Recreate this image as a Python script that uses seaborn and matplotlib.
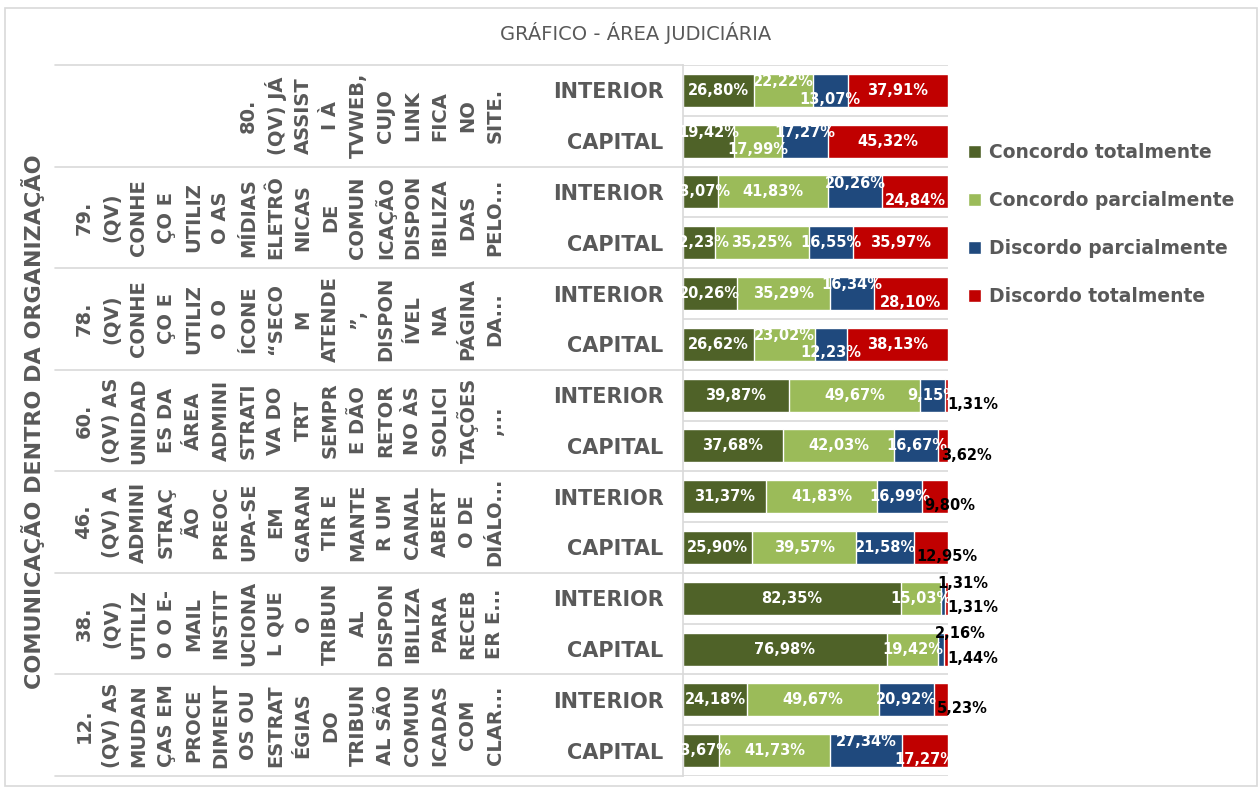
import numpy as np
import pandas as pd
import matplotlib.pyplot as plt
import matplotlib.transforms as mtransforms
from matplotlib.lines import Line2D
from matplotlib.patches import Patch, Rectangle
import seaborn as sns

# dados do gráfico (ordem de cima para baixo)
questions = [
    "80.\n(QV) JÁ\nASSIST\nI À\nTVWEB,\nCUJO\nLINK\nFICA\nNO\nSITE.",
    "79.\n(QV)\nCONHE\nÇO E\nUTILIZ\nO AS\nMÍDIAS\nELETRÔ\nNICAS\nDE\nCOMUN\nICAÇÃO\nDISPON\nIBILIZA\nDAS\nPELO...",
    "78.\n(QV)\nCONHE\nÇO E\nUTILIZ\nO O\nÍCONE\n“SECO\nM\nATENDE\n”,\nDISPON\nÍVEL\nNA\nPÁGINA\nDA...",
    "60.\n(QV) AS\nUNIDAD\nES DA\nÁREA\nADMINI\nSTRATI\nVA DO\nTRT\nSEMPR\nE DÃO\nRETOR\nNO ÀS\nSOLICI\nTAÇÕES\n,...",
    "46.\n(QV) A\nADMINI\nSTRAÇ\nÃO\nPREOC\nUPA-SE\nEM\nGARAN\nTIR E\nMANTE\nR UM\nCANAL\nABERT\nO DE\nDIÁLO...",
    "38.\n(QV)\nUTILIZ\nO O E-\nMAIL\nINSTIT\nUCIONA\nL QUE\nO\nTRIBUN\nAL\nDISPON\nIBILIZA\nPARA\nRECEB\nER E...",
    "12.\n(QV) AS\nMUDAN\nÇAS EM\nPROCE\nDIMENT\nOS OU\nESTRAT\nÉGIAS\nDO\nTRIBUN\nAL SÃO\nCOMUN\nICADAS\nCOM\nCLAR...",
]
regions = ["INTERIOR", "CAPITAL"]
answers = ["Concordo totalmente", "Concordo parcialmente",
           "Discordo parcialmente", "Discordo totalmente"]
colors = ["#4F6228", "#9BBB59", "#1F497D", "#C00000"]

concordo_total = [26.80, 19.42, 13.07, 12.23, 20.26, 26.62, 39.87, 37.68,
                  31.37, 25.90, 82.35, 76.98, 24.18, 13.67]
concordo_parcial = [22.22, 17.99, 41.83, 35.25, 35.29, 23.02, 49.67, 42.03,
                    41.83, 39.57, 15.03, 19.42, 49.67, 41.73]
discordo_parcial = [13.07, 17.27, 20.26, 16.55, 16.34, 12.23, 9.15, 16.67,
                    16.99, 21.58, 1.31, 2.16, 20.92, 27.34]
discordo_total = [37.91, 45.32, 24.84, 35.97, 28.10, 38.13, 1.31, 3.62,
                  9.80, 12.95, 1.31, 1.44, 5.23, 17.27]

outer_label = "COMUNICAÇÃO DENTRO DA ORGANIZAÇÃO"
title = "GRÁFICO - ÁREA JUDICIÁRIA"

# tabela longa com valores acumulados (barras empilhadas)
rows = [q.split("\n")[0] + " " + r for q in questions for r in regions]
values = np.array([concordo_total, concordo_parcial, discordo_parcial, discordo_total]).T
cum = values.cumsum(axis=1)
df = pd.DataFrame([(rows[i], answers[j], cum[i, j])
                   for i in range(len(rows)) for j in range(4)],
                  columns=["row", "answer", "cum"])

sns.set_theme(style="white")
plt.rcParams["font.family"] = ["DejaVu Sans"]
gray = "#595959"
line_c = "#D9D9D9"

W, H = 1260, 787
fig = plt.figure(figsize=(W / 100, H / 100), dpi=100)
ax = fig.add_axes([683 / W, 1 - 776 / H, (948 - 683) / W, (776 - 65) / H])

sns.barplot(data=df, y="row", x="cum", hue="answer", order=rows,
            hue_order=answers[::-1], palette=dict(zip(answers, colors)),
            dodge=False, width=0.65, saturation=1, errorbar=None,
            legend=False, ax=ax, zorder=2)

ax.set_xlim(0, 100)
ax.set_ylim(len(rows) - 0.5, -0.5)
ax.set_xlabel("")
ax.set_ylabel("")
ax.set_xticks([])
ax.set_yticks(range(len(rows)))
ax.set_yticklabels([r for q in questions for r in regions],
                   fontsize=15, fontweight="bold", color=gray)
ax.tick_params(axis="y", length=0, pad=14)
for s in ["top", "right", "bottom"]:
    ax.spines[s].set_visible(False)
ax.spines["left"].set_color(line_c)
ax.spines["left"].set_linewidth(1.2)

# linhas separando categorias
for b in np.arange(-0.5, len(rows)):
    ax.axhline(b, color=line_c, lw=1.2, zorder=0)

blend = mtransforms.blended_transform_factory(fig.transFigure, ax.transData)
for g in range(len(questions) + 1):
    b = 2 * g - 0.5
    ax.add_line(Line2D([55 / W, 683 / W], [b, b], transform=blend,
                       color=line_c, lw=1.2, clip_on=False))

# rótulos das perguntas (texto vertical em colunas)
for g, q in enumerate(questions):
    lines = q.split("\n")
    n = len(lines)
    for k, txt in enumerate(lines):
        xp = 495 - (n - 1 - k) * 27.4
        ax.text(xp / W, 2 * g + 0.5, txt, transform=blend, rotation=90,
                ha="center", va="center", fontsize=14, fontweight="bold",
                color=gray, clip_on=False)

fig.text(33 / W, 1 - 422 / H, outer_label, rotation=90, ha="center",
         va="center", fontsize=16, fontweight="bold", color=gray)

# rótulos de dados
half_w = 11.5  # meia largura aproximada de um rótulo, em % do eixo
shift = 0.17
for i in range(len(rows)):
    prev = None
    prev_right, prev_level = -100, 0
    for j in range(4):
        v = values[i, j]
        start = cum[i, j] - v
        lab = f"{v:.2f}".replace(".", ",") + "%"
        if j == 3 and v < 15:
            ax.text(start + 1, i + 0.18, lab, ha="left", va="center",
                    fontsize=10.5, fontweight="bold", color="black",
                    clip_on=False, zorder=4)
        elif v < 5:
            ax.text(start - 1.5, i - 0.3, lab, ha="left", va="center",
                    fontsize=10.5, fontweight="bold", color="black",
                    clip_on=False, zorder=4)
        else:
            xc = start + v / 2
            level = 0
            if xc - half_w < prev_right:
                if prev_level == 0:
                    prev.set_y(i - shift)
                    prev_level = -1
                level = 1 if prev_level < 0 else -1
            t = ax.text(xc, i + shift * level, lab, ha="center", va="center",
                        fontsize=10.5, fontweight="bold", color="white",
                        clip_on=False, zorder=3)
            prev, prev_right, prev_level = t, xc + half_w, level

handles = [Patch(facecolor=c, label=a) for a, c in zip(answers, colors)]
ax.legend(handles=handles, loc="upper left",
          bbox_to_anchor=(968 / W, 1 - 143 / H), bbox_transform=fig.transFigure,
          frameon=False, prop={"weight": "bold", "size": 13.5}, labelcolor=gray,
          handlelength=0.7, handleheight=0.7, handletextpad=0.4,
          labelspacing=1.55, borderaxespad=0, borderpad=0)

fig.text(636 / W, 1 - 33 / H, title, ha="center", va="center",
         fontsize=14, color=gray)

fig.add_artist(Rectangle((5 / W, 1 / H), 1252 / W, (786 - 8) / H,
                         transform=fig.transFigure, fill=False,
                         edgecolor=line_c, lw=1.2))

fig.savefig("out.png", dpi=100)
